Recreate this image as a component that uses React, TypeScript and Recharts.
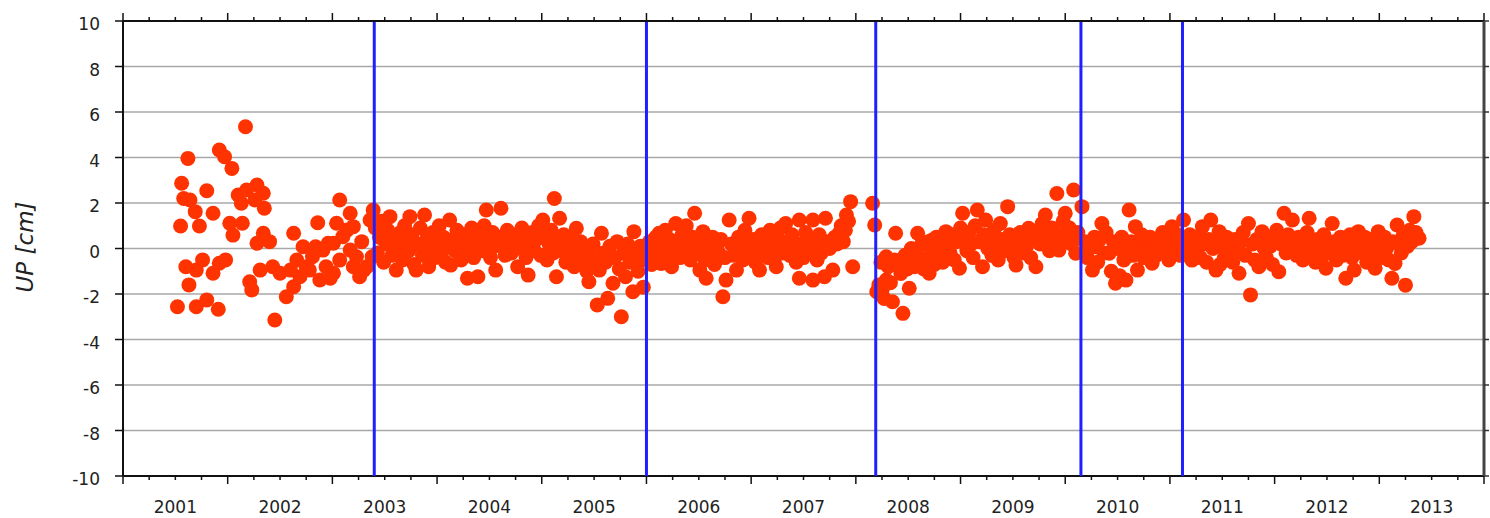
import { CartesianGrid, ReferenceLine, Scatter, ScatterChart, XAxis, YAxis } from "recharts";

// GPS vertical component (cm), decimal year, split at the event lines
const seg2001: Array<[number, number]> = [
  [2001.52, -2.56], [2001.55, 0.99], [2001.56, 2.87], [2001.58, 2.2], [2001.6, -0.8], [2001.62, 3.96],
  [2001.63, -1.6], [2001.64, 2.13], [2001.69, 1.62], [2001.7, -2.56], [2001.7, -0.95], [2001.73, 0.99],
  [2001.76, -0.5], [2001.8, 2.54], [2001.8, -2.26], [2001.86, 1.55], [2001.86, -1.09], [2001.91, -2.67],
  [2001.92, 4.33], [2001.92, -0.65], [2001.97, 4.03], [2001.98, -0.5], [2002.02, 1.11], [2002.04, 3.52],
  [2002.05, 0.59], [2002.1, 2.35], [2002.13, 1.99], [2002.14, 1.11], [2002.17, 5.35], [2002.18, 2.57],
  [2002.21, -1.46], [2002.23, -1.82], [2002.26, 2.13], [2002.28, 2.79], [2002.28, 0.23], [2002.31, -0.95],
  [2002.34, 2.43], [2002.34, 0.67], [2002.35, 1.77], [2002.4, 0.3], [2002.43, -0.8], [2002.45, -3.14],
  [2002.5, -1.09], [2002.56, -2.12], [2002.6, -0.95], [2002.63, -1.68], [2002.63, 0.67], [2002.66, -0.51],
  [2002.69, -1.24], [2002.72, 0.08], [2002.75, -0.8], [2002.78, -0.95], [2002.81, -0.36], [2002.84, 0.08],
  [2002.86, 1.13], [2002.88, -1.38], [2002.91, -0.07], [2002.94, -0.8], [2002.96, 0.23], [2002.98, -1.31],
  [2003.01, -1.09], [2003.01, 0.23], [2003.04, 1.11], [2003.07, 2.13], [2003.07, -0.51], [2003.1, 0.52],
  [2003.14, 0.81], [2003.17, 1.55], [2003.17, -0.07], [2003.2, 0.96], [2003.2, -0.8], [2003.23, -0.36],
  [2003.26, -1.24], [2003.28, 0.3], [2003.3, -0.95], [2003.33, -0.8], [2003.36, 1.25], [2003.38, -0.36],
  [2003.39, 1.69],
];

const seg2003: Array<[number, number]> = [
  [2003.41, 0.9], [2003.43, -0.2], [2003.45, 0.5], [2003.47, 1.2], [2003.49, -0.6], [2003.51, 0.2],
  [2003.53, 0.8], [2003.55, 1.4], [2003.57, -0.3], [2003.59, 0.4], [2003.61, -0.95], [2003.63, 0.1],
  [2003.65, 0.7], [2003.67, -0.5], [2003.69, 1.0], [2003.71, 0.3], [2003.73, -0.1], [2003.74, 1.4],
  [2003.76, 0.6], [2003.78, -0.7], [2003.8, -0.95], [2003.82, 0.2], [2003.84, 0.9], [2003.86, -0.3],
  [2003.88, 1.47], [2003.9, 0.4], [2003.92, -0.8], [2003.94, 0.0], [2003.96, 0.7], [2003.98, -0.4],
  [2004.0, 0.3], [2004.02, 1.0], [2004.04, -0.2], [2004.06, 0.5], [2004.08, -0.6], [2004.1, 0.1],
  [2004.12, 1.25], [2004.13, -0.73], [2004.15, 0.4], [2004.17, -0.1], [2004.19, 0.8], [2004.21, 0.2],
  [2004.23, -0.5], [2004.25, 0.6], [2004.27, -0.2], [2004.29, -1.31], [2004.31, 0.3], [2004.33, 0.9],
  [2004.35, -0.4], [2004.37, 0.1], [2004.39, -1.24], [2004.41, 0.5], [2004.43, -0.1], [2004.45, 1.0],
  [2004.47, 1.69], [2004.49, 0.3], [2004.51, -0.4], [2004.53, 0.7], [2004.55, 0.1], [2004.56, -0.95],
  [2004.58, 0.5], [2004.61, 1.77], [2004.63, 0.2], [2004.65, -0.3], [2004.67, 0.8], [2004.69, 0.4],
  [2004.71, -0.2], [2004.73, 0.6], [2004.75, 0.0], [2004.77, -0.8], [2004.79, 0.5], [2004.81, 0.9],
  [2004.83, 0.2], [2004.85, -0.4], [2004.87, -1.17], [2004.89, 0.3], [2004.91, 0.7], [2004.93, -0.1],
  [2004.95, 0.4], [2004.97, 1.0], [2004.99, -0.3], [2005.01, 1.25], [2005.03, 0.5], [2005.05, -0.5],
  [2005.07, 0.2], [2005.09, 0.8], [2005.11, -0.2], [2005.12, 2.2], [2005.14, -1.24], [2005.16, 0.4],
  [2005.17, 1.33], [2005.19, -0.1], [2005.21, 0.6], [2005.23, -0.6], [2005.25, 0.2], [2005.27, -0.3],
  [2005.29, 0.5], [2005.31, -0.8], [2005.33, 0.89], [2005.35, -0.2], [2005.37, 0.3], [2005.39, -0.6],
  [2005.41, 0.0], [2005.43, -1.0], [2005.45, -1.46], [2005.47, -0.3], [2005.49, 0.2], [2005.51, -0.7],
  [2005.53, -2.48], [2005.55, -0.95], [2005.57, 0.67], [2005.59, -0.2], [2005.61, -0.6], [2005.63, -2.19],
  [2005.65, 0.1], [2005.68, -1.53], [2005.7, -0.4], [2005.72, 0.3], [2005.74, -0.9], [2005.76, -3.0],
  [2005.78, -0.2], [2005.8, -1.24], [2005.82, 0.2], [2005.84, -0.6], [2005.87, -1.9], [2005.88, 0.74],
  [2005.9, -0.3], [2005.92, -1.0], [2005.94, 0.1], [2005.96, -0.5], [2005.97, -1.7],
];

const seg2006: Array<[number, number]> = [
  [2006.01, -0.3], [2006.03, 0.3], [2006.05, -0.7], [2006.07, 0.1], [2006.09, 0.5], [2006.11, -0.2],
  [2006.12, 0.67], [2006.14, -0.66], [2006.16, 0.2], [2006.18, 0.8], [2006.2, -0.3], [2006.22, 0.4],
  [2006.24, -0.8], [2006.26, 0.0], [2006.28, 1.1], [2006.3, 0.3], [2006.32, -0.4], [2006.34, 0.6],
  [2006.36, -0.1], [2006.38, 1.0], [2006.4, 0.2], [2006.42, -0.5], [2006.44, 0.5], [2006.46, 1.55],
  [2006.48, -0.2], [2006.5, 0.3], [2006.51, -0.95], [2006.53, 0.0], [2006.54, 0.74], [2006.56, -0.5],
  [2006.57, -1.31], [2006.59, 0.2], [2006.61, -0.3], [2006.63, 0.5], [2006.65, -0.7], [2006.67, 0.1],
  [2006.69, -0.2], [2006.71, 0.4], [2006.73, -2.12], [2006.75, -0.4], [2006.76, -1.39], [2006.79, 1.25],
  [2006.81, 0.2], [2006.83, -0.3], [2006.86, -0.95], [2006.88, 0.5], [2006.9, 0.0], [2006.92, -0.5],
  [2006.94, 0.8], [2006.96, 0.2], [2006.98, 1.33], [2007.0, -0.2], [2007.02, 0.4], [2007.04, -0.6],
  [2007.06, 0.1], [2007.08, -0.95], [2007.1, 0.6], [2007.12, -0.1], [2007.14, 0.3], [2007.16, -0.4],
  [2007.18, 0.8], [2007.2, 0.0], [2007.22, -0.5], [2007.24, -0.8], [2007.26, 0.4], [2007.28, 0.9],
  [2007.3, -0.2], [2007.33, 1.1], [2007.35, 0.3], [2007.37, -0.3], [2007.39, 0.6], [2007.41, 0.0],
  [2007.43, -0.6], [2007.46, 1.25], [2007.46, -1.31], [2007.48, 0.2], [2007.5, -0.4], [2007.52, 0.7],
  [2007.54, -0.1], [2007.56, 0.4], [2007.59, 1.25], [2007.59, -1.39], [2007.61, 0.1], [2007.63, -0.5],
  [2007.65, 0.6], [2007.67, -0.2], [2007.7, -1.24], [2007.71, 1.33], [2007.73, 0.3], [2007.75, 0.0],
  [2007.78, -0.95], [2007.8, 0.5], [2007.82, 0.2], [2007.84, 0.67], [2007.86, 1.0], [2007.88, 0.3],
  [2007.9, 0.8], [2007.91, 1.47], [2007.93, 1.2], [2007.95, 2.06], [2007.97, -0.8], [2008.16, 1.99],
  [2008.18, 1.03],
];

const seg2008: Array<[number, number]> = [
  [2008.2, -1.9], [2008.22, -1.6], [2008.24, -0.6], [2008.25, -1.83], [2008.27, -2.2], [2008.29, -1.39],
  [2008.29, -0.36], [2008.31, -0.8], [2008.33, -1.5], [2008.35, -2.34], [2008.37, -0.5], [2008.38, 0.67],
  [2008.41, -0.65], [2008.43, -1.1], [2008.45, -2.85], [2008.47, -0.3], [2008.49, -0.9], [2008.51, -1.75],
  [2008.53, 0.0], [2008.54, -0.36], [2008.56, -0.8], [2008.59, 0.67], [2008.61, -0.4], [2008.63, 0.2],
  [2008.65, -0.9], [2008.67, -0.51], [2008.69, 0.3], [2008.7, -1.09], [2008.72, -0.2], [2008.73, 0.37],
  [2008.75, -0.7], [2008.77, 0.5], [2008.79, -0.3], [2008.81, 0.1], [2008.83, -0.6], [2008.86, 0.74],
  [2008.88, 0.2], [2008.9, -0.2], [2008.92, 0.6], [2008.94, -0.5], [2008.96, 0.3], [2008.99, -0.87],
  [2009.0, 0.9], [2009.02, 1.55], [2009.04, 0.4], [2009.06, -0.1], [2009.08, 0.7], [2009.1, 0.2],
  [2009.12, -0.4], [2009.14, 1.0], [2009.16, 1.69], [2009.18, 0.3], [2009.21, -0.8], [2009.22, 0.6],
  [2009.24, 1.25], [2009.26, 0.0], [2009.28, 0.5], [2009.3, -0.3], [2009.32, 0.8], [2009.34, 0.2],
  [2009.36, -0.5], [2009.38, 1.1], [2009.4, 0.4], [2009.42, -0.1], [2009.45, 1.84], [2009.47, 0.6],
  [2009.49, 0.1], [2009.51, -0.4], [2009.53, -0.73], [2009.55, 0.3], [2009.57, 0.7], [2009.59, -0.2],
  [2009.61, 0.5], [2009.63, 0.1], [2009.65, 0.89], [2009.67, -0.4], [2009.69, 0.4], [2009.72, -0.8],
  [2009.74, 0.8], [2009.76, 0.2], [2009.78, 1.1], [2009.81, 1.47], [2009.83, 0.5], [2009.85, -0.1],
  [2009.87, 0.9], [2009.89, 0.3], [2009.92, 2.42], [2009.94, -0.07], [2009.96, 0.6], [2009.98, 1.2],
  [2010.0, 1.55], [2010.02, 0.4], [2010.04, 0.9], [2010.06, 0.2], [2010.08, 2.57], [2010.1, -0.21],
  [2010.12, 0.7],
];

const seg2010: Array<[number, number]> = [
  [2010.16, 1.84], [2010.19, 0.3], [2010.21, -0.4], [2010.23, 0.0], [2010.26, -0.95], [2010.28, 0.5],
  [2010.29, 0.08], [2010.31, -0.6], [2010.33, 0.4], [2010.35, 1.1], [2010.37, -0.2], [2010.39, 0.7],
  [2010.42, -0.21], [2010.44, -1.0], [2010.46, 0.3], [2010.48, -1.53], [2010.5, 0.0], [2010.52, -1.2],
  [2010.54, 0.5], [2010.56, -0.5], [2010.58, -1.39], [2010.58, 0.08], [2010.61, 1.69], [2010.63, 0.3],
  [2010.65, -0.3], [2010.67, 0.96], [2010.69, -0.95], [2010.71, 0.1], [2010.73, 0.6], [2010.75, -0.4],
  [2010.77, 0.23], [2010.79, -0.1], [2010.81, 0.5], [2010.83, -0.65], [2010.85, 0.2], [2010.87, -0.3],
  [2010.89, 0.37], [2010.91, 0.0], [2010.93, 0.7], [2010.95, -0.2], [2010.97, 0.4], [2010.99, -0.5],
  [2011.02, 0.96], [2011.04, 0.2], [2011.05, -0.07], [2011.08, 0.6], [2011.1, -0.3],
];

const seg2011: Array<[number, number]> = [
  [2011.13, 1.25], [2011.15, 0.3], [2011.17, -0.3], [2011.19, 0.6], [2011.21, -0.51], [2011.23, 0.1],
  [2011.25, -0.21], [2011.27, 0.5], [2011.29, -0.4], [2011.31, 0.96], [2011.33, 0.2], [2011.35, -0.6],
  [2011.37, 0.4], [2011.39, 1.25], [2011.41, 0.0], [2011.44, -0.95], [2011.46, 0.3], [2011.47, 0.74],
  [2011.48, -0.7], [2011.5, 0.1], [2011.52, -0.4], [2011.54, 0.5], [2011.56, -0.2], [2011.58, 0.2],
  [2011.6, -0.6], [2011.62, 0.4], [2011.64, -0.1], [2011.66, -1.09], [2011.68, 0.3], [2011.7, 0.7],
  [2011.72, -0.3], [2011.75, 1.1], [2011.77, -2.04], [2011.79, 0.2], [2011.81, -0.5], [2011.83, 0.4],
  [2011.85, -0.8], [2011.88, 0.74], [2011.9, 0.0], [2011.92, -0.4], [2011.94, 0.5], [2011.96, 0.1],
  [2011.98, -0.7], [2012.0, 0.3], [2012.02, 0.8], [2012.04, -1.02], [2012.06, 0.2], [2012.08, 0.5],
  [2012.09, 1.55], [2012.11, -0.2], [2012.13, 0.6], [2012.15, 0.1], [2012.17, 1.25], [2012.19, 0.3],
  [2012.21, -0.3], [2012.23, 0.5], [2012.25, 0.0], [2012.27, -0.5], [2012.29, 0.3], [2012.31, 0.7],
  [2012.33, 1.33], [2012.35, -0.2], [2012.37, 0.2], [2012.39, -0.6], [2012.41, 0.4], [2012.43, 0.0],
  [2012.45, -0.4], [2012.47, 0.6], [2012.49, -0.87], [2012.51, 0.2], [2012.53, -0.2], [2012.55, 1.1],
  [2012.57, 0.3], [2012.59, -0.5], [2012.61, 0.1], [2012.63, 0.5], [2012.65, -0.3], [2012.68, -1.31],
  [2012.7, 0.2], [2012.72, 0.6], [2012.74, -0.4], [2012.76, -0.95], [2012.78, 0.0], [2012.8, 0.74],
  [2012.82, 0.3], [2012.84, -0.2], [2012.86, 0.5], [2012.88, -0.6], [2012.9, 0.1], [2012.92, 0.4],
  [2012.94, -0.3], [2012.96, -0.87], [2012.99, 0.74], [2013.01, 0.2], [2013.03, -0.4], [2013.05, 0.5],
  [2013.07, 0.0], [2013.09, -0.5], [2013.12, -1.31], [2013.13, 0.3], [2013.15, -0.66], [2013.17, 1.03],
  [2013.19, 0.2], [2013.21, -0.2], [2013.23, 0.6], [2013.25, -1.61], [2013.27, 0.1], [2013.29, 0.8],
  [2013.31, 0.3], [2013.33, 1.4], [2013.35, 0.7], [2013.38, 0.45],
];

const segments = [seg2001, seg2003, seg2006, seg2008, seg2010, seg2011];

// events (blue lines)
const eventEpochs = [2003.4, 2006.0, 2008.19, 2010.15, 2011.12];

const yearLabels = [2001, 2002, 2003, 2004, 2005, 2006, 2007, 2008, 2009, 2010, 2011, 2012, 2013];
const yTicks = [-10, -8, -6, -4, -2, 0, 2, 4, 6, 8, 10];

const quarterTicks: number[] = [];
yearLabels.forEach((yr) => quarterTicks.push(yr, yr + 0.25, yr + 0.5, yr + 0.75));
quarterTicks.push(yearLabels[yearLabels.length - 1] + 1);

const PLOT_LEFT = 123;
const PLOT_TOP = 21;
const PLOT_RIGHT = 1484;
const PLOT_BOTTOM = 476;
const PLOT_W = PLOT_RIGHT - PLOT_LEFT;
const PLOT_H = PLOT_BOTTOM - PLOT_TOP;
const FONT = "'DejaVu Sans', sans-serif";

function XTick(props: any) {
  const { x, y, payload } = props;
  const v: number = payload.value;
  const frac = Math.round((v - Math.floor(v)) * 100);
  const len = frac === 0 ? 8 : 4;
  return (
    <g>
      <line x1={x} x2={x} y1={y} y2={y + len} stroke="#111" strokeWidth={1.5} />
      <line x1={x} x2={x} y1={y - PLOT_H} y2={y - PLOT_H - len} stroke="#111" strokeWidth={1.5} />
      {frac === 50 && (
        <text x={x} y={y + 37} textAnchor="middle" fontSize={17} fontFamily={FONT} fill="#222">
          {Math.floor(v)}
        </text>
      )}
    </g>
  );
}

function YTick(props: any) {
  const { x, y, payload } = props;
  return (
    <g>
      <line x1={x - 8} x2={x} y1={y} y2={y} stroke="#111" strokeWidth={1.5} />
      <line x1={x + PLOT_W} x2={x + PLOT_W + 5} y1={y} y2={y} stroke="#333" strokeWidth={1.5} />
      <text x={x - 23} y={y + 9} textAnchor="end" fontSize={17} fontFamily={FONT} fill="#222">
        {payload.value}
      </text>
    </g>
  );
}

const Dot = (props: any) => <circle cx={props.cx} cy={props.cy} r={7.5} fill="#ff3300" />;

export default function App() {
  return (
    <div style={{ position: "absolute", left: 0, top: 0, width: 1490, height: 518, background: "#fff" }}>
      <ScatterChart
        width={1490}
        height={518}
        margin={{ top: PLOT_TOP, right: 1490 - PLOT_RIGHT, bottom: 0, left: 0 }}
      >
        <CartesianGrid vertical={false} stroke="#a8a8a8" strokeWidth={1.3} />
        <XAxis
          type="number"
          dataKey="x"
          domain={[2001, 2014]}
          ticks={quarterTicks}
          interval={0}
          height={518 - PLOT_BOTTOM}
          tickSize={0}
          tickMargin={0}
          tickLine={false}
          tick={<XTick />}
          axisLine={{ stroke: "#111", strokeWidth: 2 }}
          allowDataOverflow
        />
        <YAxis
          type="number"
          dataKey="y"
          domain={[-10, 10]}
          ticks={yTicks}
          interval={0}
          width={PLOT_LEFT}
          tickSize={0}
          tickMargin={0}
          tickLine={false}
          tick={<YTick />}
          axisLine={{ stroke: "#111", strokeWidth: 2 }}
          label={{
            content: () => (
              <text
                x={33}
                y={247}
                transform="rotate(-90 33 247)"
                textAnchor="middle"
                fontSize={23}
                fontStyle="italic"
                fontFamily={FONT}
                fill="#222"
              >
                UP [cm]
              </text>
            ),
          }}
        />
        {segments.map((seg, i) => (
          <Scatter
            key={i}
            data={seg.map(([x, y]) => ({ x, y }))}
            shape={Dot}
            isAnimationActive={false}
          />
        ))}
        {eventEpochs.map((e) => (
          <ReferenceLine key={e} x={e} stroke="#1f1fff" strokeWidth={3} zIndex={700} />
        ))}
        <ReferenceLine y={10} stroke="#111" strokeWidth={2} zIndex={700} />
        <ReferenceLine x={2014} stroke="#444" strokeWidth={3} zIndex={700} />
      </ScatterChart>
    </div>
  );
}
